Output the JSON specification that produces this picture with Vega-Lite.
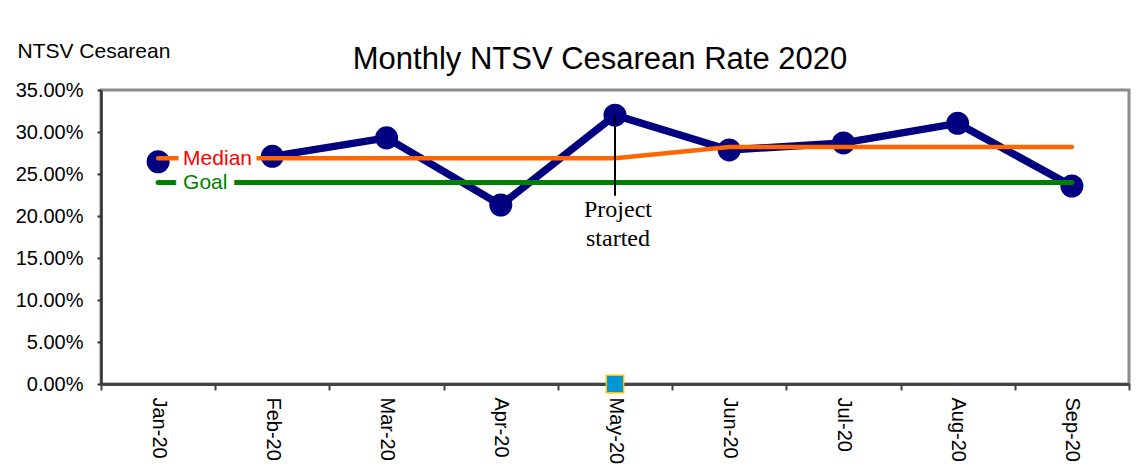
{
  "$schema": "https://vega.github.io/schema/vega-lite/v6.json",
  "width": 1028,
  "height": 294,
  "autosize": {"type": "none"},
  "padding": {"left": 101, "top": 90, "right": 9, "bottom": 86},
  "background": "white",
  "config": {
    "view": {"stroke": "#8c8c8c", "strokeWidth": 3},
    "font": "Liberation Sans"
  },
  "title": {
    "text": "Monthly NTSV Cesarean Rate 2020",
    "fontSize": 31,
    "fontWeight": "normal",
    "color": "black",
    "font": "Liberation Sans",
    "baseline": "alphabetic",
    "frame": "group",
    "offset": -60,
    "dx": -15,
    "anchor": "middle"
  },
  "datasets": {
    "monthly": [
      {"month": "Jan-20", "rate": 0.2646, "median": 0.2687, "goal": 0.24},
      {"month": "Feb-20", "rate": 0.271, "median": 0.2687, "goal": 0.24},
      {"month": "Mar-20", "rate": 0.293, "median": 0.2687, "goal": 0.24},
      {"month": "Apr-20", "rate": 0.213, "median": 0.2687, "goal": 0.24},
      {"month": "May-20", "rate": 0.32, "median": 0.2687, "goal": 0.24},
      {"month": "Jun-20", "rate": 0.2786, "median": 0.282, "goal": 0.24},
      {"month": "Jul-20", "rate": 0.287, "median": 0.282, "goal": 0.24},
      {"month": "Aug-20", "rate": 0.3103, "median": 0.282, "goal": 0.24},
      {"month": "Sep-20", "rate": 0.2357, "median": 0.282, "goal": 0.24}
    ],
    "annotation": [
      {"month": "May-20", "from": 0.32, "to": 0.224, "textpos": 0.222, "label": ["Project", "started"]}
    ],
    "marker": [
      {"month": "May-20", "value": 0}
    ]
  },
  "encoding": {
    "x": {
      "field": "month",
      "type": "ordinal",
      "sort": ["Jan-20", "Feb-20", "Mar-20", "Apr-20", "May-20", "Jun-20", "Jul-20", "Aug-20", "Sep-20"],
      "scale": {"type": "band", "paddingInner": 0, "paddingOuter": 0, "domain": ["Jan-20", "Feb-20", "Mar-20", "Apr-20", "May-20", "Jun-20", "Jul-20", "Aug-20", "Sep-20"]},
      "axis": {
        "title": null,
        "labelAngle": 90,
        "labelFontSize": 20,
        "labelColor": "black",
        "labelFont": "Liberation Sans",
        "tickBand": "extent",
        "tickSize": 6,
        "tickWidth": 2,
        "tickColor": "#444",
        "labelPadding": 7,
        "domainColor": "#444",
        "domainWidth": 3,
        "grid": false
      }
    }
  },
  "layer": [
    {
      "data": {"name": "monthly"},
      "transform": [{"filter": "datum.month !== 'Jan-20'"}],
      "mark": {"type": "line", "color": "#000080", "strokeWidth": 7.5, "strokeJoin": "round"},
      "encoding": {
        "y": {
          "field": "rate",
          "type": "quantitative",
          "scale": {"domain": [0, 0.35], "nice": false, "zero": true},
          "axis": {
            "values": [0, 0.05, 0.1, 0.15, 0.2, 0.25, 0.3, 0.35],
            "format": ".2%",
            "labelFontSize": 20,
            "labelColor": "black",
            "labelFont": "Liberation Sans",
            "tickSize": 4,
            "tickWidth": 2,
            "tickColor": "#333",
            "labelPadding": 14,
            "domainColor": "#333",
            "domainWidth": 2.5,
            "grid": false,
            "title": "NTSV Cesarean",
            "titleAngle": 0,
            "titleAlign": "left",
            "titleBaseline": "alphabetic",
            "titleX": -84,
            "titleY": -33,
            "titleFontSize": 21,
            "titleFontWeight": "normal",
            "titleColor": "black",
            "titleFont": "Liberation Sans"
          }
        }
      }
    },
    {
      "data": {"name": "monthly"},
      "mark": {"type": "point", "shape": "circle", "filled": true, "color": "#000080", "size": 530, "opacity": 1},
      "encoding": {"y": {"field": "rate", "type": "quantitative"}}
    },
    {
      "data": {"name": "monthly"},
      "mark": {"type": "line", "color": "#FF6600", "strokeWidth": 4.5, "strokeCap": "round"},
      "encoding": {"y": {"field": "median", "type": "quantitative"}}
    },
    {
      "data": {"name": "monthly"},
      "mark": {"type": "line", "color": "#008000", "strokeWidth": 5, "strokeCap": "round"},
      "encoding": {"y": {"field": "goal", "type": "quantitative"}}
    },
    {
      "data": {"name": "monthly"},
      "transform": [{"filter": "datum.month === 'Jan-20'"}],
      "mark": {"type": "text", "text": "Median", "align": "left", "baseline": "middle", "dx": 25, "dy": 1, "fontSize": 21, "font": "Liberation Sans", "color": "white", "stroke": "white", "strokeWidth": 12, "strokeJoin": "round"},
      "encoding": {"y": {"field": "median", "type": "quantitative"}}
    },
    {
      "data": {"name": "monthly"},
      "transform": [{"filter": "datum.month === 'Jan-20'"}],
      "mark": {"type": "text", "text": "Median", "align": "left", "baseline": "middle", "dx": 25, "dy": 1, "fontSize": 21, "font": "Liberation Sans", "color": "#FF0000"},
      "encoding": {"y": {"field": "median", "type": "quantitative"}}
    },
    {
      "data": {"name": "monthly"},
      "transform": [{"filter": "datum.month === 'Jan-20'"}],
      "mark": {"type": "text", "text": "Goal", "align": "left", "baseline": "middle", "dx": 25, "dy": 1, "fontSize": 21, "font": "Liberation Sans", "color": "white", "stroke": "white", "strokeWidth": 16, "strokeJoin": "round"},
      "encoding": {"y": {"field": "goal", "type": "quantitative"}}
    },
    {
      "data": {"name": "monthly"},
      "transform": [{"filter": "datum.month === 'Jan-20'"}],
      "mark": {"type": "text", "text": "Goal", "align": "left", "baseline": "middle", "dx": 25, "dy": 1, "fontSize": 21, "font": "Liberation Sans", "color": "#008000"},
      "encoding": {"y": {"field": "goal", "type": "quantitative"}}
    },
    {
      "data": {"name": "annotation"},
      "mark": {"type": "rule", "color": "black", "strokeWidth": 2},
      "encoding": {
        "y": {"field": "from", "type": "quantitative"},
        "y2": {"field": "to"}
      }
    },
    {
      "data": {"name": "annotation"},
      "mark": {"type": "text", "align": "center", "baseline": "top", "dx": 3, "fontSize": 24, "lineHeight": 29, "font": "Liberation Serif", "color": "black"},
      "encoding": {
        "y": {"field": "textpos", "type": "quantitative"},
        "text": {"field": "label"}
      }
    },
    {
      "data": {"name": "marker"},
      "mark": {"type": "point", "shape": "square", "filled": true, "fill": "#0096D6", "stroke": "#FFC000", "strokeWidth": 1.5, "size": 300, "opacity": 1},
      "encoding": {"y": {"field": "value", "type": "quantitative"}}
    }
  ]
}
